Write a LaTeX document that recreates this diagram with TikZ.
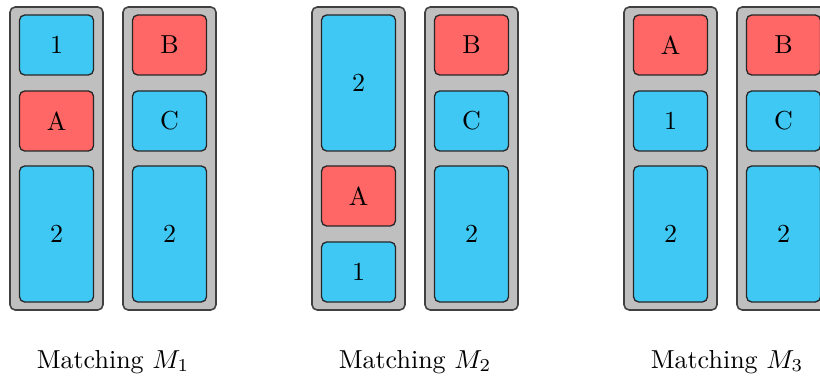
\documentclass[tikz,border=0pt]{standalone}
\definecolor{slotblue}{RGB}{64,200,244}
\definecolor{slotred}{RGB}{255,102,102}
\definecolor{bingray}{RGB}{191,191,191}
\begin{document}
\begin{tikzpicture}[x=0.3846pt,y=-0.3846pt,
  bin/.style={draw=black!75, fill=bingray, rounded corners=2pt, line width=0.6pt,
    minimum width={93*0.3846pt}, minimum height={303*0.3846pt}, inner sep=0pt},
  item/.style={draw=black!85, rounded corners=2pt, line width=0.5pt,
    minimum width={74*0.3846pt}, inner sep=0pt},
  smallb/.style={item, fill=slotblue, minimum height={60*0.3846pt}},
  smallr/.style={item, fill=slotred, minimum height={60*0.3846pt}},
  bigb/.style={item, fill=slotblue, minimum height={136*0.3846pt}},
  caption/.style={anchor=base, inner sep=0pt}]
\clip (0,0) rectangle (820,377);

% Matching M1
\node[bin] (m1a) at (56.5,158.5) {};
\node[smallb] (m1a1) at (56.5,45) {1};
\node[smallr] (m1a2) at (56.5,121) {A};
\node[bigb]   (m1a3) at (56.5,234) {2};
\node[bin] (m1b) at (169.5,158.5) {};
\node[smallr] (m1b1) at (169.5,45) {B};
\node[smallb] (m1b2) at (169.5,121) {C};
\node[bigb]   (m1b3) at (169.5,234) {2};
\node[caption] (l1) at (113,368) {Matching $M_1$};

% Matching M2
\node[bin] (m2a) at (358.5,158.5) {};
\node[bigb]   (m2a1) at (358.5,83) {2};
\node[smallr] (m2a2) at (358.5,196) {A};
\node[smallb] (m2a3) at (358.5,272) {1};
\node[bin] (m2b) at (471.5,158.5) {};
\node[smallr] (m2b1) at (471.5,45) {B};
\node[smallb] (m2b2) at (471.5,121) {C};
\node[bigb]   (m2b3) at (471.5,234) {2};
\node[caption] (l2) at (415,368) {Matching $M_2$};

% Matching M3
\node[bin] (m3a) at (670.5,158.5) {};
\node[smallr] (m3a1) at (670.5,45) {A};
\node[smallb] (m3a2) at (670.5,121) {1};
\node[bigb]   (m3a3) at (670.5,234) {2};
\node[bin] (m3b) at (783.5,158.5) {};
\node[smallr] (m3b1) at (783.5,45) {B};
\node[smallb] (m3b2) at (783.5,121) {C};
\node[bigb]   (m3b3) at (783.5,234) {2};
\node[caption] (l3) at (727,368) {Matching $M_3$};
\end{tikzpicture}
\end{document}
